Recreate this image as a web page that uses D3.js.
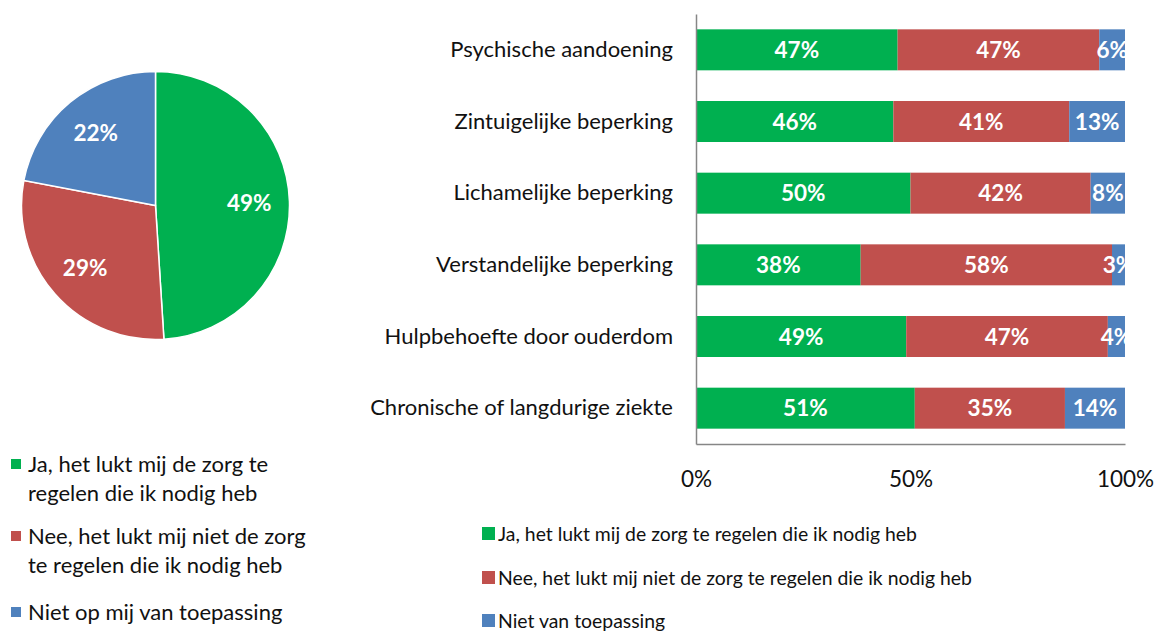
<!DOCTYPE html>
<html>
<head>
<meta charset="utf-8">
<script src="https://cdn.jsdelivr.net/npm/d3@7"></script>
<style>
  body { margin: 0; background: #fff; }
  text { font-family: Lato, "Open Sans", sans-serif; }
</style>
</head>
<body>
<div id="chart"></div>
<script>
// pie data (totaal)
var pieLabels = ["Ja, het lukt mij de zorg te regelen die ik nodig heb",
                 "Nee, het lukt mij niet de zorg te regelen die ik nodig heb",
                 "Niet op mij van toepassing"];
var pieValues = [49, 29, 22];

// stacked bars per type beperking
var categories = ["Psychische aandoening", "Zintuigelijke beperking", "Lichamelijke beperking",
                  "Verstandelijke beperking", "Hulpbehoefte door ouderdom", "Chronische of langdurige ziekte"];
var jaValues   = [47, 46, 50, 38, 49, 51];
var neeValues  = [47, 41, 42, 58, 47, 35];
var nietValues = [6, 13, 8, 3, 4, 14];
var barSeries = ["Ja, het lukt mij de zorg te regelen die ik nodig heb",
                 "Nee, het lukt mij niet de zorg te regelen die ik nodig heb",
                 "Niet van toepassing"];
var xTicks = [0, 0.5, 1];

var colors = ["#00B050", "#C0504D", "#4F81BD"];

var W = 1156, H = 633;
var svg = d3.select("#chart").append("svg")
    .attr("width", W).attr("height", H);

// ---------- pie ----------
var pieCx = 155.5, pieCy = 205.5, pieR = 134;
var pie = d3.pie().sort(null).value(function(d){ return d; });
var arc = d3.arc().innerRadius(0).outerRadius(pieR);
var labelArc = d3.arc().innerRadius(pieR * 0.7).outerRadius(pieR * 0.7);

var pg = svg.append("g").attr("transform", "translate(" + pieCx + "," + pieCy + ")");
var slices = pie(pieValues);
pg.selectAll("path").data(slices).enter().append("path")
  .attr("d", arc)
  .attr("fill", function(d, i){ return colors[i]; })
  .attr("stroke", "#fff")
  .attr("stroke-width", 1.5);
pg.selectAll("text").data(slices).enter().append("text")
  .attr("transform", function(d){ return "translate(" + labelArc.centroid(d) + ")"; })
  .attr("text-anchor", "middle")
  .attr("dy", "0.36em")
  .attr("fill", "#fff")
  .style("font-size", "22.5px")
  .style("font-weight", "bold")
  .text(function(d){ return d.data + "%"; });

// pie legend (wrapped in two lines like the original)
var pieLegendLines = [["Ja, het lukt mij de zorg te", "regelen die ik nodig heb"],
                      ["Nee, het lukt mij niet de zorg", "te regelen die ik nodig heb"],
                      ["Niet op mij van toepassing"]];
var pieLegendY = [472, 544, 620];
var pl = svg.append("g");
pieLegendLines.forEach(function(lines, i){
  var item = pl.append("g").attr("transform", "translate(0," + pieLegendY[i] + ")");
  item.append("rect").attr("x", 11).attr("y", -13).attr("width", 10).attr("height", 10)
    .attr("fill", colors[i]);
  var t = item.append("text").attr("x", 28).attr("fill", "#111").style("font-size", "22px");
  lines.forEach(function(l, j){
    t.append("tspan").attr("x", 28).attr("dy", j === 0 ? 0 : 28.5).text(l);
  });
});

// ---------- stacked bars ----------
var x = d3.scaleLinear().domain([0, 1]).range([696, 1125]);
var y = d3.scaleBand().domain(categories).range([14, 444]).paddingInner(0.428).paddingOuter(0.214);

var rows = categories.map(function(c, i){
  return {cat: c, ja: jaValues[i], nee: neeValues[i], niet: nietValues[i]};
});
var keys = ["ja", "nee", "niet"];
var stack = d3.stack().keys(keys).offset(d3.stackOffsetExpand);
var stacked = stack(rows);

svg.append("clipPath").attr("id", "plotclip")
  .append("rect").attr("x", 696).attr("y", 0).attr("width", 1125 - 696).attr("height", 444);

var bg = svg.append("g").attr("clip-path", "url(#plotclip)");
stacked.forEach(function(layer, k){
  var g = bg.append("g").attr("fill", colors[k]);
  g.selectAll("rect").data(layer).enter().append("rect")
    .attr("x", function(d){ return x(d[0]); })
    .attr("width", function(d){ return x(d[1]) - x(d[0]); })
    .attr("y", function(d){ return y(d.data.cat); })
    .attr("height", y.bandwidth());
  bg.append("g").selectAll("text").data(layer).enter().append("text")
    .attr("x", function(d){ return (x(d[0]) + x(d[1])) / 2; })
    .attr("y", function(d){ return y(d.data.cat) + y.bandwidth() / 2; })
    .attr("dy", "0.36em")
    .attr("text-anchor", "middle")
    .attr("fill", "#fff")
    .style("font-size", "22.5px")
    .style("font-weight", "bold")
    .text(function(d){ return d.data[layer.key] + "%"; });
});

// axes
var yAxis = svg.append("g").attr("transform", "translate(696,0)")
  .call(d3.axisLeft(y).tickSize(0).tickPadding(23));
var xAxis = svg.append("g").attr("transform", "translate(0,444)")
  .call(d3.axisBottom(x).tickValues(xTicks).tickSize(0).tickPadding(27).tickFormat(d3.format(".0%")));
[yAxis, xAxis].forEach(function(a){
  a.select(".domain").attr("stroke", "#868686").attr("stroke-width", 1.5);
  a.selectAll("text").attr("fill", "#111").style("font-family", "Lato, sans-serif");
});
yAxis.selectAll("text").style("font-size", "22px");
xAxis.selectAll("text").style("font-size", "22.5px");

// bar legend
var barLegendY = [541, 585, 628];
var bl = svg.append("g");
barSeries.forEach(function(s, i){
  var item = bl.append("g").attr("transform", "translate(0," + barLegendY[i] + ")");
  item.append("rect").attr("x", 482).attr("y", -14).attr("width", 13).attr("height", 13)
    .attr("fill", colors[i]);
  item.append("text").attr("x", 498).attr("fill", "#111").style("font-size", "19.4px").text(s);
});
</script>
</body>
</html>
